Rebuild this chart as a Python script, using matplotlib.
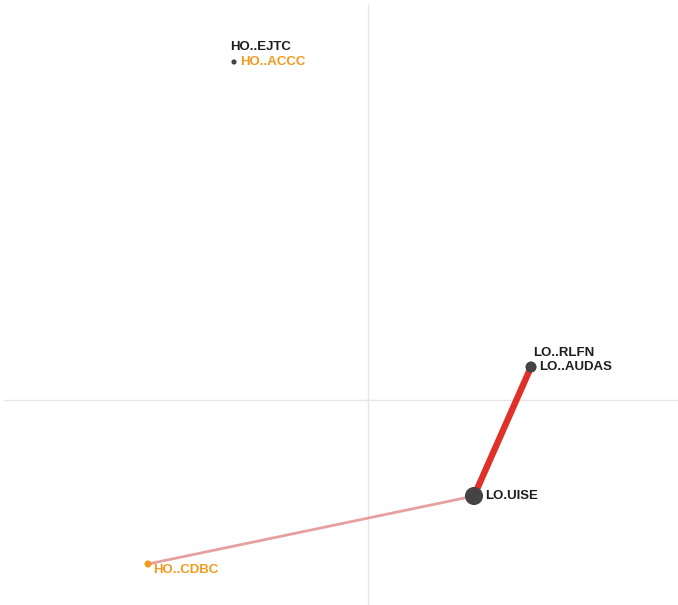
import matplotlib
matplotlib.use("Agg")
import matplotlib.pyplot as plt

# Node layout coordinates
node_names = ["HO..EJTC", "HO..ACCC", "LO..RLFN", "LO..AUDAS", "LO.UISE", "HO..CDBC"]
node_x = [-1.34, -1.34, 1.63, 1.63, 1.06, -2.20]
node_y = [3.38, 3.38, 0.33, 0.33, -0.96, -1.64]
node_group = ["LO", "HO", "LO", "LO", "LO", "HO"]
node_size = [0, 14, 60, 60, 170, 26]

# Edges between nodes (index pairs) and their weight
edge_from = [4, 4]
edge_to = [3, 5]
edge_weight = [1.0, 0.35]

dot_color = {"HO": "#444444", "LO": "#444444"}

fig = plt.figure(figsize=(6.78, 6.05), dpi=100)
ax = fig.add_axes([4 / 678, 0, 674 / 678, 600 / 605])
ax.set_xlim(-3.64, 3.10)
ax.set_ylim(-2.05, 3.95)
ax.axis("off")

ax.axhline(0, color="#e6e6e6", lw=1.0, zorder=0)
ax.axvline(0, color="#e6e6e6", lw=1.0, zorder=0)

for a, b, w in zip(edge_from, edge_to, edge_weight):
    if w > 0.5:
        col, lw = "#e0302a", 4.6
    else:
        col, lw = "#e6a0a0", 2.0
    ax.plot([node_x[a], node_x[b]], [node_y[a], node_y[b]], color=col,
            lw=lw, solid_capstyle="butt", zorder=1)

for i, name in enumerate(node_names):
    if node_size[i] > 0:
        c = "#f29a1f" if name == "HO..CDBC" else dot_color[node_group[i]]
        ax.scatter(node_x[i], node_y[i], s=node_size[i], color=c, zorder=3,
                   edgecolors="none")

# Label offsets in points
label_offset = {
    "HO..EJTC": (-3, 11),
    "HO..ACCC": (4.5, 0),
    "LO..RLFN": (1.5, 10),
    "LO..AUDAS": (6, 0),
    "LO.UISE": (8, 0),
    "HO..CDBC": (4, -4.5),
}
label_color = {
    "HO..EJTC": "#1e1e1e",
    "HO..ACCC": "#f29a1f",
    "LO..RLFN": "#1e1e1e",
    "LO..AUDAS": "#1e1e1e",
    "LO.UISE": "#1e1e1e",
    "HO..CDBC": "#f29a1f",
}
for i, name in enumerate(node_names):
    dx, dy = label_offset[name]
    ax.annotate(name, (node_x[i], node_y[i]), xytext=(dx, dy),
                textcoords="offset points", ha="left", va="center",
                fontsize=9.5, fontweight="bold", family="Liberation Sans",
                color=label_color[name], zorder=4)

fig.savefig("out.png", dpi=100, facecolor="white")
